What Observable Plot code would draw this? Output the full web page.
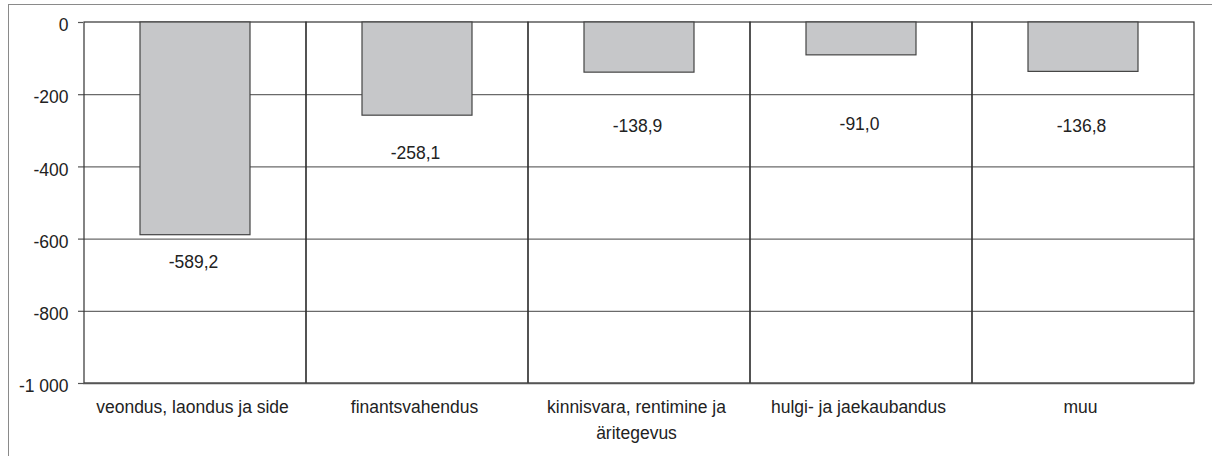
<!DOCTYPE html>
<html>
<head>
<meta charset="utf-8">
<script src="https://cdn.jsdelivr.net/npm/d3@7"></script>
<script src="https://cdn.jsdelivr.net/npm/@observablehq/plot@0.6"></script>
<style>
  html, body { margin: 0; padding: 0; background: #fff; }
  #wrap { position: relative; width: 1212px; height: 456px; overflow: hidden; }
  #frame { position: absolute; left: 8px; top: 4px; width: 1300px; height: 600px;
           border-top: 1.5px solid #8a8a8a; border-left: 1.5px solid #8a8a8a; pointer-events: none; }
  svg { font-family: "Liberation Sans", Arial, sans-serif; }
</style>
</head>
<body>
<div id="wrap"><div id="frame"></div></div>
<script>
const categories = [
  "veondus, laondus ja side",
  "finantsvahendus",
  "kinnisvara, rentimine ja äritegevus",
  "hulgi- ja jaekaubandus",
  "muu"
];
const values = [-589.2, -258.1, -138.9, -91.0, -136.8];
// vertical position (in axis units) where each value label sits
const labelPos = [-665, -363, -288, -283, -288];
const yTicks = [0, -200, -400, -600, -800, -1000];
const gridLines = [-200, -400, -600, -800];

const data = categories.map((c, i) => ({cat: c, value: values[i], lab: labelPos[i]}));

const fmtTick = d => String(d).replace(/\B(?=(\d{3})+(?!\d))/g, " ");
const fmtVal = d => d.toFixed(1).replace(".", ",");
const fmtCat = d => d === "kinnisvara, rentimine ja äritegevus" ? "kinnisvara, rentimine ja\näritegevus" : d;

const FS = 17.5;
const chart = Plot.plot({
  width: 1212,
  height: 456,
  marginLeft: 83,
  marginRight: 18,
  marginTop: 22,
  marginBottom: 73,
  style: {fontFamily: "'Liberation Sans', Arial, sans-serif", fontSize: FS + "px", color: "#222", background: "transparent"},
  x: {domain: categories, padding: 0, label: null},
  y: {domain: [-1000, 0], label: null},
  marks: [
    Plot.ruleY(gridLines, {stroke: "#6a6a6a", strokeWidth: 1.2}),
    Plot.barY(data, {x: "cat", y1: -1000, y2: 0, fill: "none", stroke: "#333", strokeWidth: 1.2, inset: 0}),
    Plot.ruleY([-1000], {stroke: "#555", strokeWidth: 1.5}),
    Plot.barY(data, {x: "cat", y: "value", fill: "#c6c7c9", stroke: "#444", strokeWidth: 1.2, insetLeft: 56, insetRight: 56}),
    Plot.text(data, {x: "cat", y: "lab", text: d => fmtVal(d.value), fontSize: FS, fill: "#222", dx: -2}),
    Plot.axisY({ticks: yTicks, tickFormat: () => "", tickSize: 5, stroke: "#555", strokeWidth: 1.2}),
    Plot.axisY({ticks: yTicks, tickFormat: fmtTick, tickSize: 0, tickPadding: 15, dy: 3, fontSize: FS, fill: "#222"}),
    Plot.axisX({tickFormat: fmtCat, tickSize: 0, tickPadding: 11, dx: -3, fontSize: FS, fill: "#222", lineHeight: 1.5})
  ]
});
document.getElementById("wrap").prepend(chart);
</script>
</body>
</html>
